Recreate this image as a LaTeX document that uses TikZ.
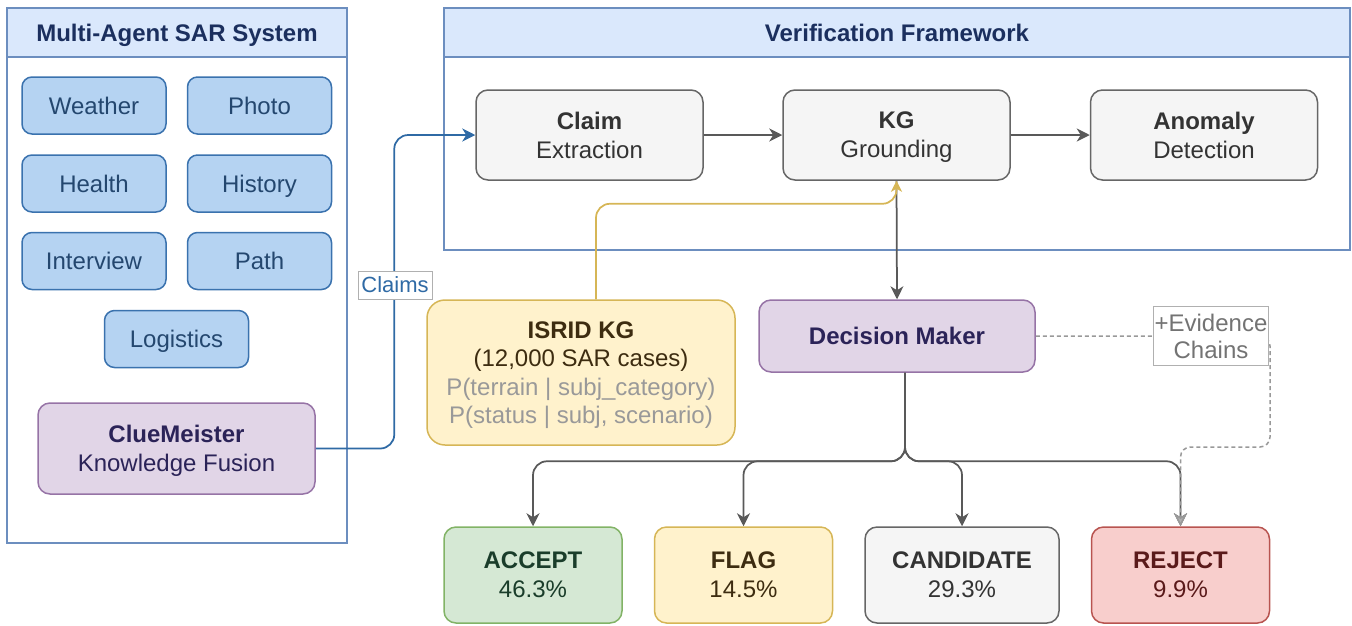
\documentclass[tikz,border=0pt]{standalone}
\usepackage{fontspec}
\setmainfont{Liberation Sans}
\usetikzlibrary{arrows.meta,calc}

\definecolor{hdrfill}{HTML}{DAE8FC}
\definecolor{hdrdraw}{HTML}{6C8EBF}
\definecolor{hdrtext}{HTML}{1B2F5E}
\definecolor{agfill}{HTML}{B5D3F2}
\definecolor{agdraw}{HTML}{3A72AE}
\definecolor{agtext}{HTML}{24476F}
\definecolor{pufill}{HTML}{E1D5E7}
\definecolor{pudraw}{HTML}{9673A6}
\definecolor{putext}{HTML}{2B2358}
\definecolor{gyfill}{HTML}{F5F5F5}
\definecolor{gydraw}{HTML}{666666}
\definecolor{gytext}{HTML}{333333}
\definecolor{yefill}{HTML}{FFF2CC}
\definecolor{yedraw}{HTML}{D6B656}
\definecolor{yetext}{HTML}{3D2C10}
\definecolor{gnfill}{HTML}{D5E8D4}
\definecolor{gndraw}{HTML}{82B366}
\definecolor{gntext}{HTML}{1A3D2A}
\definecolor{rdfill}{HTML}{F8CECC}
\definecolor{rddraw}{HTML}{B85450}
\definecolor{rdtext}{HTML}{5A1A1A}
\definecolor{wire}{HTML}{595959}
\definecolor{claimblue}{HTML}{2F6AA5}
\definecolor{softgray}{HTML}{999999}
\definecolor{lblgray}{HTML}{B0B0B0}

\tikzset{
  big/.style={font=\fontsize{24}{29}\selectfont},
  box/.style={big, rounded corners=12pt, line width=1.5pt, align=center, inner sep=0pt},
  oneline/.style={text height=17pt, text depth=0pt},
  frame/.style={draw=hdrdraw, line width=1.5pt, inner sep=0pt},
  header/.style={frame, oneline, fill=hdrfill, text=hdrtext, font=\fontsize{24}{29}\selectfont\bfseries},
  agent/.style={box, oneline, rounded corners=10pt, fill=agfill, draw=agdraw, text=agtext,
                minimum width=144pt, minimum height=57pt},
  purplebox/.style={box, fill=pufill, draw=pudraw, text=putext},
  stage/.style={box, fill=gyfill, draw=gydraw, text=gytext,
                minimum width=227pt, minimum height=90pt},
  outcome/.style={box, minimum width=178pt, minimum height=96pt},
  tip/.style={-{Stealth[length=13pt,width=13pt,inset=4pt]}},
  flow/.style={tip, draw=wire, line width=1.75pt, rounded corners=14pt},
  claimflow/.style={tip, draw=claimblue, line width=1.75pt, rounded corners=14pt},
  kgflow/.style={-{Stealth[length=11pt,width=11pt,inset=3pt]}, draw=yedraw, line width=1.75pt, rounded corners=14pt},
  evflow/.style={-{Stealth[length=13pt,width=13pt,inset=4pt,fill=lblgray]}, draw=softgray,
                 line width=1.5pt, dash pattern=on 4pt off 3pt, rounded corners=10pt},
  lbl/.style={fill=white, draw=lblgray, line width=0.75pt, inner sep=1pt, align=center}
}

\begin{document}
\begin{tikzpicture}[x=1pt,y=-1pt]
\useasboundingbox (0,0) rectangle (1352,625);

% --- Multi-Agent SAR System panel ---
\node[frame, minimum width=340pt, minimum height=486pt] (sarbody) at (177,300) {};
\node[header, minimum width=340pt, minimum height=49pt] (sarhead) at (177,32.5) {Multi-Agent SAR System};

\node[agent] (weather)   at (94,105.5)  {Weather};
\node[agent] (photo)     at (259.5,105.5) {Photo};
\node[agent] (health)    at (94,183.5)  {Health};
\node[agent] (history)   at (259.5,183.5) {History};
\node[agent] (interview) at (94,261)    {Interview};
\node[agent] (path)      at (259.5,261) {Path};
\node[agent] (logistics) at (176.5,339) {Logistics};

\node[purplebox, minimum width=277pt, minimum height=91pt] (clue) at (176.5,448.5)
  {{\bfseries ClueMeister}\\\smash{Knowledge Fusion}};

% --- Verification Framework panel ---
\node[frame, minimum width=906pt, minimum height=193pt] (verbody) at (897,153.5) {};
\node[header, minimum width=906pt, minimum height=49pt] (verhead) at (897,32.5) {Verification Framework};

\node[stage] (claim) at (589.5,135) {{\bfseries Claim}\\Extraction};
\node[stage] (kg)    at (896.5,135) {{\bfseries KG}\\\smash{Grounding}};
\node[stage] (anom)  at (1204,135)  {{\bfseries Anomaly}\\Detection};

% --- knowledge graph and decision ---
\node[box, rounded corners=18pt, fill=yefill, draw=yedraw, text=yetext,
      minimum width=308pt, minimum height=145pt,
      font=\fontsize{24}{28.5}\selectfont] (isrid) at (581,372.5)
  {{\bfseries ISRID KG}\\(12,000 SAR cases)\\
   \textcolor{softgray}{P(terrain | subj\_category)}\\
   \textcolor{softgray}{\smash{P(status | subj, scenario)}}};

\node[purplebox, oneline, minimum width=276pt, minimum height=72pt] (dm) at (897,336)
  {\bfseries Decision Maker};

% --- outcomes ---
\node[outcome, fill=gnfill, draw=gndraw, text=gntext] (accept) at (533,575)
  {{\bfseries ACCEPT}\\46.3\%};
\node[outcome, fill=yefill, draw=yedraw, text=yetext] (flag) at (743.5,575)
  {{\bfseries FLAG}\\14.5\%};
\node[outcome, fill=gyfill, draw=gydraw, text=gytext, minimum width=194pt] (cand) at (962,575)
  {{\bfseries CANDIDATE}\\29.3\%};
\node[outcome, fill=rdfill, draw=rddraw, text=rdtext] (reject) at (1180.5,575)
  {{\bfseries REJECT}\\9.9\%};

% --- connectors ---
\draw[claimflow] (clue.east) -| ([xshift=-81pt]claim.west) -- (claim.west);
\node[lbl, text=claimblue, font=\fontsize{22}{26}\selectfont,
      minimum width=74pt, minimum height=28pt] (claimslbl) at (395,285) {Claims};

\draw[flow] (claim.east) -- (kg.west);
\draw[flow] (kg.east) -- (anom.west);
\draw[flow] (kg.south) -- (dm.north);
\draw[kgflow] ([xshift=15pt]isrid.north) |- ([yshift=-23pt]kg.south) -- (kg.south);

\draw[flow] ([xshift=8pt]dm.south) |- ([yshift=65pt]accept.north) -- (accept.north);
\draw[flow] ([xshift=8pt]dm.south) |- ([yshift=65pt]flag.north) -- (flag.north);
\draw[flow] ([xshift=8pt]dm.south) |- ([yshift=65pt]cand.north) -- (cand.north);
\draw[flow] ([xshift=8pt]dm.south) |- ([yshift=65pt]reject.north) -- (reject.north);

\coordinate (evturn) at (1270,447);
\draw[evflow] (dm.east) -| (evturn) -| (reject.north);
\node[lbl, text=black!55, font=\fontsize{24}{27}\selectfont,
      minimum width=115pt, minimum height=59pt] (evid) at (1211,336) {+Evidence\\Chains};
\end{tikzpicture}
\end{document}
